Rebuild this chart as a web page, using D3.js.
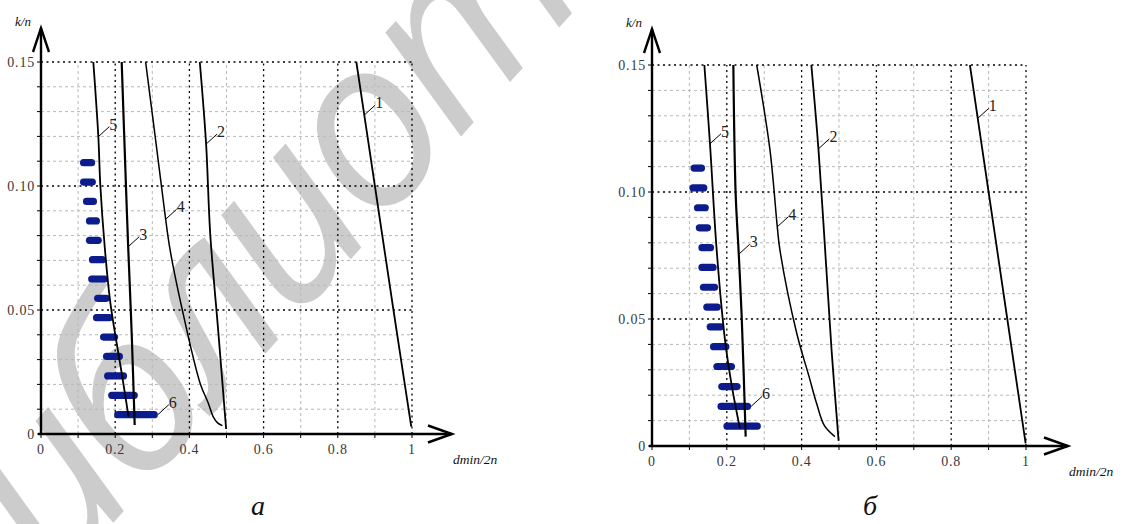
<!DOCTYPE html>
<html>
<head>
<meta charset="utf-8">
<script src="https://cdn.jsdelivr.net/npm/d3@7"></script>
<style>
  html, body { margin: 0; padding: 0; background: #fff; }
  svg { display: block; }
</style>
</head>
<body>
<svg id="chart" width="1131" height="524"></svg>
<script>
// ---- axis ticks ----
const xTickValues = [0, 0.2, 0.4, 0.6, 0.8, 1];
const xTickLabels = ["0", "0.2", "0.4", "0.6", "0.8", "1"];
const yTickValues = [0, 0.05, 0.10, 0.15];
const yTickLabels = ["0", "0.05", "0.10", "0.15"];
const xMinorGrid = [0.1, 0.3, 0.5, 0.7, 0.9];
const xMajorGrid = [0.2, 0.4, 0.6, 0.8, 1.0];
const yMinorGrid = [0.01, 0.02, 0.03, 0.04, 0.06, 0.07, 0.08, 0.09, 0.11, 0.12, 0.13, 0.14];
const yMajorGrid = [0.05, 0.10, 0.15];
const xTickMarks = [0, 0.1, 0.2, 0.3, 0.4, 0.5, 0.6, 0.7, 0.8, 0.9, 1.0];
const yTickMarks = [0, 0.01, 0.02, 0.03, 0.04, 0.05, 0.06, 0.07, 0.08, 0.09, 0.10, 0.11, 0.12, 0.13, 0.14, 0.15];

// ---- curve 6: k/n levels and spread of dmin/2n per level ----
const levels6 = [0.0078, 0.0156, 0.0234, 0.0313, 0.0391, 0.0469, 0.0547,
                 0.0625, 0.0703, 0.0781, 0.0859, 0.0938, 0.1016, 0.1094];
const spreadMinA = [0.197, 0.181, 0.170, 0.167, 0.159, 0.140, 0.143, 0.127, 0.129, 0.121, 0.121, 0.113, 0.105, 0.105];
const spreadMaxA = [0.315, 0.261, 0.232, 0.221, 0.208, 0.194, 0.186, 0.181, 0.175, 0.164, 0.159, 0.151, 0.148, 0.146];
const spreadMinB = [0.191, 0.175, 0.177, 0.164, 0.155, 0.146, 0.137, 0.128, 0.124, 0.124, 0.117, 0.112, 0.100, 0.103];
const spreadMaxB = [0.291, 0.265, 0.237, 0.222, 0.207, 0.193, 0.184, 0.177, 0.173, 0.166, 0.158, 0.152, 0.148, 0.142];

// ---- curves 1..5, panel а: [dmin/2n, k/n] ----
const curve1A = [[0.850, 0.15], [0.900, 0.10], [0.950, 0.05], [0.998, 0.003]];
const curve2A = [[0.428, 0.15], [0.445, 0.117], [0.456, 0.081], [0.478, 0.041], [0.499, 0.002]];
const curve3A = [[0.2175, 0.15], [0.229, 0.10], [0.235, 0.0755], [0.2444, 0.0406], [0.2525, 0.0036]];
const curve4A = [[0.282, 0.15], [0.309, 0.1185], [0.336, 0.0866], [0.348, 0.0742], [0.379, 0.0513],
                 [0.4286, 0.0206], [0.451, 0.0124], [0.464, 0.007], [0.476, 0.0045], [0.489, 0.0034]];
const curve5A = [[0.141, 0.15], [0.1545, 0.12], [0.160, 0.10], [0.172, 0.075], [0.186, 0.054],
                 [0.1995, 0.0406], [0.217, 0.025], [0.236, 0.007]];

// ---- curves 1..5, panel б ----
const curve1B = [[0.850, 0.15], [0.900, 0.10], [0.950, 0.05], [0.999, 0.001]];
const curve2B = [[0.426, 0.15], [0.445, 0.117], [0.463, 0.077], [0.480, 0.038], [0.499, 0.002]];
const curve3B = [[0.2175, 0.15], [0.2235, 0.10], [0.232, 0.0755], [0.2398, 0.051], [0.2505, 0.0037]];
const curve4B = [[0.280, 0.15], [0.3155, 0.1165], [0.335, 0.0863], [0.342, 0.0772], [0.387, 0.0444],
                 [0.420, 0.0273], [0.440, 0.0168], [0.461, 0.008], [0.489, 0.0037]];
const curve5B = [[0.140, 0.15], [0.155, 0.119], [0.173, 0.077], [0.195, 0.042], [0.213, 0.024], [0.235, 0.007]];

// ---- curve number labels: k/n where each leader touches its curve ----
const curveNames = ["1", "2", "3", "4", "5"];
const labelLevelsA = [0.1286, 0.1169, 0.0755, 0.0866, 0.1199];
const labelLevelsB = [0.129, 0.117, 0.0755, 0.0863, 0.119];
const label6RowA = 0;   // curve 6 label points at the end of this level
const label6RowB = 1;

const panelCaptions = ["а", "б"];
const axisNameY = "k/n";
const axisNameX = "dmin/2n";
const watermark = "Библиотека БГУИР";

const panels = [
  { x0: 41, x1: 412, y0: 434, y1: 62, xTip: 452, yTip: 28, capX: 258, capY: 515,
    curves: [curve1A, curve2A, curve3A, curve4A, curve5A],
    lmin: spreadMinA, lmax: spreadMaxA, labelLevels: labelLevelsA, row6: label6RowA },
  { x0: 652, x1: 1026, y0: 446, y1: 65, xTip: 1068, yTip: 29, capX: 870, capY: 515,
    curves: [curve1B, curve2B, curve3B, curve4B, curve5B],
    lmin: spreadMinB, lmax: spreadMaxB, labelLevels: labelLevelsB, row6: label6RowB }
];

const svg = d3.select("#chart");
const defs = svg.append("defs");
defs.append("filter").attr("id", "soft")
  .attr("x", "-20%").attr("y", "-50%").attr("width", "140%").attr("height", "200%")
  .append("feGaussianBlur").attr("stdDeviation", 0.6);

// library stamp behind the left plot, its 6th letter centred on a set point
(function stamp() {
  const F = 235, angDeg = -48, pin = [377, 135];
  const t = svg.append("text")
    .attr("font-family", "'Open Sans', 'Noto Sans', sans-serif")
    .attr("font-style", "italic")
    .attr("font-weight", 500)
    .attr("font-size", F)
    .attr("letter-spacing", "-0.05em")
    .attr("fill", "#cccccc")
    .text(watermark);
  const node = t.node();
  const c5 = (node.getStartPositionOfChar(5).x + node.getEndPositionOfChar(5).x) / 2;
  const ang = angDeg * Math.PI / 180;
  const lx = c5 + 0.05 * F, ly = -0.27 * F;
  const tx = pin[0] - (lx * Math.cos(ang) - ly * Math.sin(ang));
  const ty = pin[1] - (lx * Math.sin(ang) + ly * Math.cos(ang));
  t.attr("transform", `translate(${tx},${ty}) rotate(${angDeg})`);
})();

const strokeWidths = [1.8, 1.8, 2.2, 1.5, 1.8];
const serif = "'Liberation Serif', 'Times New Roman', serif";

// x position on a polyline at a given k/n
function xAtLevel(pts, yv) {
  for (let i = 0; i < pts.length - 1; i++) {
    const a = pts[i], b = pts[i + 1];
    if ((yv <= a[1] && yv >= b[1]) || (yv >= a[1] && yv <= b[1])) {
      const t = (yv - a[1]) / (b[1] - a[1]);
      return a[0] + t * (b[0] - a[0]);
    }
  }
  return pts[pts.length - 1][0];
}

panels.forEach((p, pi) => {
  const x = d3.scaleLinear().domain([0, 1]).range([p.x0, p.x1]);
  const y = d3.scaleLinear().domain([0, 0.15]).range([p.y0, p.y1]);
  const g = svg.append("g");

  // grid
  const grid = g.append("g");
  grid.selectAll(".hmin").data(yMinorGrid).join("line")
    .attr("x1", x(0)).attr("x2", x(1)).attr("y1", d => y(d)).attr("y2", d => y(d))
    .attr("stroke", "#b8b8b8").attr("stroke-width", 1).attr("stroke-dasharray", "3,3");
  grid.selectAll(".vmin").data(xMinorGrid).join("line")
    .attr("y1", y(0)).attr("y2", y(0.15)).attr("x1", d => x(d)).attr("x2", d => x(d))
    .attr("stroke", "#b8b8b8").attr("stroke-width", 1).attr("stroke-dasharray", "3,3");
  grid.selectAll(".hmaj").data(yMajorGrid).join("line")
    .attr("x1", x(0)).attr("x2", x(1)).attr("y1", d => y(d)).attr("y2", d => y(d))
    .attr("stroke", "#000").attr("stroke-width", 1.3).attr("stroke-dasharray", "2,3.5");
  grid.selectAll(".vmaj").data(xMajorGrid).join("line")
    .attr("y1", y(0)).attr("y2", y(0.15)).attr("x1", d => x(d)).attr("x2", d => x(d))
    .attr("stroke", "#000").attr("stroke-width", 1.3).attr("stroke-dasharray", "2,3.5");

  // curve 6: spread of values at each k/n level
  g.append("g").attr("filter", "url(#soft)")
    .selectAll("rect").data(levels6).join("rect")
    .attr("x", (d, i) => x(p.lmin[i]))
    .attr("width", (d, i) => x(p.lmax[i]) - x(p.lmin[i]))
    .attr("y", d => y(d) - 3.6).attr("height", 7.2)
    .attr("rx", 3.6).attr("ry", 3.6)
    .attr("fill", "#0a1c8c");

  // curves 1..5
  const line = d3.line().x(d => x(d[0])).y(d => y(d[1])).curve(d3.curveCatmullRom.alpha(0.5));
  p.curves.forEach((c, ci) => {
    g.append("path").attr("d", line(c))
      .attr("fill", "none").attr("stroke", "#000")
      .attr("stroke-width", strokeWidths[ci]).attr("stroke-linecap", "butt");
  });

  // curve labels with leaders
  const labels = p.curves.map((c, ci) => ({
    name: curveNames[ci], px: x(xAtLevel(c, p.labelLevels[ci])), py: y(p.labelLevels[ci])
  }));
  labels.push({ name: "6", px: x(p.lmax[p.row6]), py: y(levels6[p.row6]) });
  const lg = g.append("g");
  lg.selectAll("line").data(labels).join("line")
    .attr("x1", d => d.px).attr("y1", d => d.py)
    .attr("x2", d => d.px + 11).attr("y2", d => d.py - 10)
    .attr("stroke", "#000").attr("stroke-width", 1);
  lg.selectAll("text").data(labels).join("text")
    .attr("x", d => d.px + 11).attr("y", d => d.py - 7)
    .attr("font-family", serif).attr("font-size", 16).attr("fill", "#222")
    .text(d => d.name);

  // tick marks
  g.append("g").selectAll("line").data(xTickMarks).join("line")
    .attr("x1", d => x(d)).attr("x2", d => x(d)).attr("y1", y(0)).attr("y2", y(0) + 4)
    .attr("stroke", "#000").attr("stroke-width", 1);
  g.append("g").selectAll("line").data(yTickMarks).join("line")
    .attr("x1", x(0) - 4).attr("x2", x(0)).attr("y1", d => y(d)).attr("y2", d => y(d))
    .attr("stroke", "#000").attr("stroke-width", 1);

  // tick labels
  g.append("g").selectAll("text").data(xTickValues).join("text")
    .attr("x", d => x(d)).attr("y", y(0) + 20)
    .attr("text-anchor", "middle")
    .attr("font-family", serif).attr("font-size", 14).attr("letter-spacing", 0.8)
    .attr("fill", "#3a3a3a")
    .text((d, i) => xTickLabels[i]);
  g.append("g").selectAll("text").data(yTickValues).join("text")
    .attr("x", x(0) - 6).attr("y", d => y(d)).attr("dy", "0.35em")
    .attr("text-anchor", "end")
    .attr("font-family", serif).attr("font-size", 14).attr("letter-spacing", 0.8)
    .attr("fill", "#3a3a3a")
    .text((d, i) => yTickLabels[i]);

  // axes with open arrowheads
  const ax = g.append("g").attr("stroke", "#000").attr("stroke-width", 2.4).attr("fill", "none");
  ax.append("line").attr("x1", x(0) - 3).attr("x2", p.xTip).attr("y1", y(0)).attr("y2", y(0));
  ax.append("line").attr("x1", x(0)).attr("x2", x(0)).attr("y1", y(0) + 1).attr("y2", p.yTip);
  ax.append("path").attr("d", `M${p.xTip - 24},${y(0) - 8.5} L${p.xTip},${y(0)} L${p.xTip - 24},${y(0) + 8.5}`);
  ax.append("path").attr("d", `M${x(0) - 8},${p.yTip + 24} L${x(0)},${p.yTip} L${x(0) + 8},${p.yTip + 24}`);

  // axis names
  g.append("text").attr("x", x(0) - 26).attr("y", p.yTip - 2)
    .attr("font-family", serif).attr("font-style", "italic").attr("font-size", 13)
    .attr("fill", "#111").text(axisNameY);
  g.append("text").attr("x", p.xTip + 1).attr("y", y(0) + 30)
    .attr("font-family", serif).attr("font-style", "italic").attr("font-size", 13.5)
    .attr("fill", "#111").text(axisNameX);

  // panel caption
  g.append("text").attr("x", p.capX).attr("y", p.capY)
    .attr("text-anchor", "middle")
    .attr("font-family", serif).attr("font-style", "italic").attr("font-size", 28)
    .attr("fill", "#111").text(panelCaptions[pi]);
});
</script>
</body>
</html>
